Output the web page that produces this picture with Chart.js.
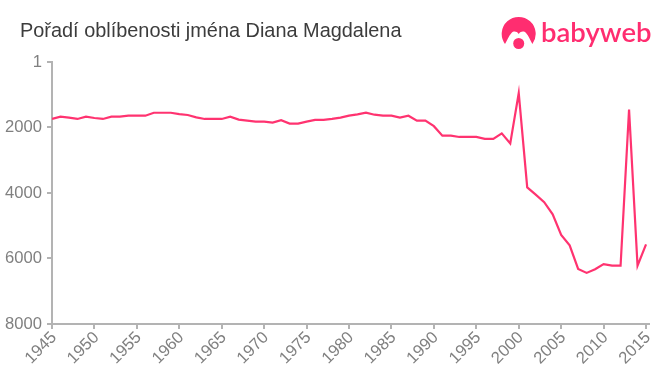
<!DOCTYPE html>
<html>
<head>
<meta charset="utf-8">
<title>Pořadí oblíbenosti jména Diana Magdalena</title>
<script src="https://cdn.jsdelivr.net/npm/chart.js@4"></script>
<style>
  body { margin: 0; background: #fff; }
  #wrap { position: relative; width: 660px; height: 375px; }
  #chart { display: block; }
  #chartTitle {
    position: absolute; left: 20px; top: 19px;
    font: 19.9px "Liberation Sans", Arial, sans-serif; color: #3c3c3c; white-space: nowrap;
  }
  #logo { position: absolute; left: 500px; top: 14px; }
  #logoText {
    position: absolute; left: 541px; top: 15px;
    font: 600 27.5px "Lato", sans-serif; color: #ff2d70;
  }
</style>
</head>
<body>
<div id="wrap">
  <canvas id="chart" width="660" height="375"></canvas>
  <div id="chartTitle">Pořadí oblíbenosti jména Diana Magdalena</div>
  <svg id="logo" width="38" height="40" viewBox="0 0 38 40">
    <path d="M5 30 A17 17 0 1 1 32.4 30 C30 26 29 22 26 19 C24 17 21 17 18.7 20 C16.5 17 13.5 17 11.5 19 C8.5 22 7.5 26 5 30 Z" fill="#ff2d70"/>
    <circle cx="18.7" cy="29.5" r="5.5" fill="#ff2d70"/>
  </svg>
  <div id="logoText">babyweb</div>
</div>
<script>
const years = [1945, 1946, 1947, 1948, 1949, 1950, 1951, 1952, 1953, 1954,
  1955, 1956, 1957, 1958, 1959, 1960, 1961, 1962, 1963, 1964,
  1965, 1966, 1967, 1968, 1969, 1970, 1971, 1972, 1973, 1974,
  1975, 1976, 1977, 1978, 1979, 1980, 1981, 1982, 1983, 1984,
  1985, 1986, 1987, 1988, 1989, 1990, 1991, 1992, 1993, 1994,
  1995, 1996, 1997, 1998, 1999, 2000, 2001, 2002, 2003, 2004,
  2005, 2006, 2007, 2008, 2009, 2010, 2011, 2012, 2013, 2014, 2015];
const ranks = [1740, 1670, 1700, 1740, 1670, 1710, 1740, 1670, 1670, 1640,
  1640, 1640, 1550, 1550, 1550, 1590, 1620, 1690, 1740, 1740,
  1740, 1670, 1760, 1790, 1820, 1820, 1850, 1780, 1880, 1880,
  1820, 1770, 1770, 1740, 1700, 1640, 1600, 1550, 1610, 1640,
  1640, 1700, 1640, 1790, 1790, 1960, 2250, 2250, 2290, 2290,
  2290, 2350, 2350, 2180, 2490, 950, 3830, 4050, 4280, 4650,
  5280, 5600, 6320, 6440, 6330, 6170, 6220, 6220, 1450, 6220, 5570];
const rankTicks = [1, 2000, 4000, 6000, 8000];
const yearTicks = [1945, 1950, 1955, 1960, 1965, 1970, 1975, 1980, 1985, 1990, 1995, 2000, 2005, 2010, 2015];

const axisColor = '#b3b3b3';
const labelColor = '#808080';
const labelFont = { family: '"Liberation Sans", Arial, sans-serif', size: 16.6 };

new Chart(document.getElementById('chart'), {
  type: 'line',
  data: {
    datasets: [{
      data: years.map((y, i) => ({ x: y, y: ranks[i] })),
      borderColor: '#ff3370',
      borderWidth: 2.2,
      pointRadius: 0,
      tension: 0
    }]
  },
  options: {
    responsive: false,
    animation: false,
    layout: { padding: { left: 0, right: 11, top: 62, bottom: 0 } },
    plugins: {
      legend: { display: false },
      tooltip: { enabled: false }
    },
    scales: {
      x: {
        type: 'linear',
        min: 1945,
        max: 2015.35, // axis line runs a little past the last tick
        afterBuildTicks: s => { s.ticks = yearTicks.map(v => ({ value: v })); },
        afterFit: s => { s.height = 51; },
        grid: { drawOnChartArea: false, color: axisColor, lineWidth: 2, tickLength: 5 },
        border: { color: axisColor, width: 2 },
        ticks: {
          color: labelColor,
          font: labelFont,
          maxRotation: 45,
          minRotation: 45,
          autoSkip: false,
          padding: -1,
          labelOffset: 2,
          callback: v => String(v)
        }
      },
      y: {
        type: 'linear',
        reverse: true,
        min: 1,
        max: 8000,
        afterBuildTicks: s => { s.ticks = rankTicks.map(v => ({ value: v })); },
        afterFit: s => { s.width = 52; },
        grid: { drawOnChartArea: false, color: axisColor, lineWidth: 2, tickLength: 5 },
        border: { color: axisColor, width: 2 },
        ticks: {
          color: labelColor,
          font: labelFont,
          autoSkip: false,
          padding: 5,
          callback: v => String(v)
        }
      }
    }
  }
});
</script>
</body>
</html>
